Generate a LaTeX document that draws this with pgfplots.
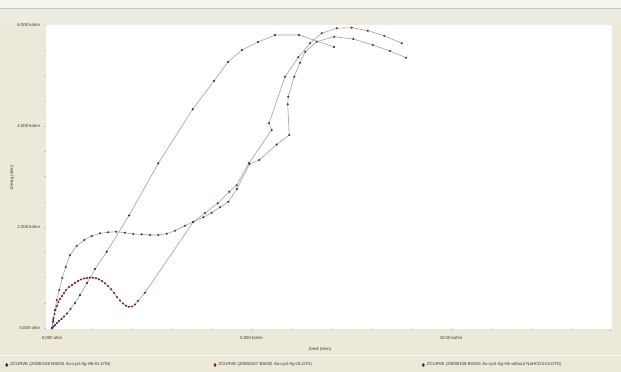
\documentclass[border=0pt]{standalone}
\usepackage{fontspec}
\setmainfont{Liberation Sans}
\usepackage{pgfplots}
\pgfplotsset{compat=1.18}
\definecolor{bg}{HTML}{ECE9DB}
\definecolor{topc}{HTML}{F5F4EF}
\definecolor{band}{HTML}{EEEBE1}
\definecolor{ln}{HTML}{A0A0A0}
\definecolor{ca}{HTML}{1E2470}
\definecolor{cb}{HTML}{8E1616}
\definecolor{cc}{HTML}{3A3A3A}
\newcommand{\tf}{\fontsize{4.3}{5}\selectfont}
\begin{document}
\begin{tikzpicture}
\fill[bg] (0pt,0pt) rectangle (621pt,372pt);
\fill[topc] (0pt,364pt) rectangle (621pt,372pt);
\fill[band] (0pt,347pt) rectangle (621pt,364pt);
\draw[line width=0.6pt, color=black!22] (0pt,364pt) -- (621pt,364pt);
\draw[line width=0.5pt, color=white!60!bg] (0pt,16.5pt) -- (621pt,16.5pt);
\begin{axis}[
  at={(46pt,43pt)}, anchor=south west,
  scale only axis, width=566pt, height=304pt,
  xmin=-0.150, xmax=14.035, ymin=-0.020, ymax=6.0,
  axis background/.style={fill=white},
  axis line style={draw=none},
  xtick={0,5,10}, xticklabels={0.000 ohm, 5.000 kohm, 10.00 kohm},
  ytick={0,2,4,6}, yticklabels={0.000 ohm, 2.000 kohm, 4.000 kohm, 6.000 kohm},
  minor xtick={1,2,3,4,6,7,8,9,11,12,13,14},
  minor ytick={0.5,1,1.5,2.5,3,3.5,4.5,5,5.5},
  xtick pos=lower, ytick pos=left, tick align=outside,
  major tick length=2.5pt, minor tick length=2pt,
  tick style={color=black!25, line width=0.4pt},
  ticklabel style={font=\tf, text=black!80},
  xticklabel style={yshift=-1.5pt},
  clip=false,
  legend columns=3,
  legend cell align=left,
  legend image code/.code={\path[#1] plot[mark=diamond*, mark size=1.5pt] coordinates {(0pt,0pt)};},
  legend style={draw=none, fill=none, inner sep=0pt, font=\tf, text=black!80,
    at={(axis description cs:-0.0716,-0.1184)}, anchor=west,
    nodes={inner sep=0.5pt, text width=203pt},
    /tikz/every odd column/.append style={column sep=2pt}},
]
\addplot[ln, line width=0.6pt, mark=*, mark size=0.7pt, mark options={draw=ca, fill=ca}] coordinates {
(0,0) (0.038,0.030) (0.075,0.059) (0.125,0.099) (0.175,0.139) (0.238,0.178)
(0.301,0.228) (0.376,0.287) (0.464,0.376) (0.576,0.495) (0.702,0.653)
(0.877,0.891) (1.078,1.168) (1.371,1.509) (1.930,2.228) (2.664,3.261)
(3.526,4.331) (4.060,4.891) (4.411,5.267) (4.762,5.505) (5.163,5.663)
(5.589,5.802) (6.190,5.802) (7.068,5.564)
};
\addlegendentry{ZCURVE (20090128 BS\#03 Au-cycl-Ag-Hb-01.DTA)}
\addplot[ln, line width=0.6pt, mark=*, mark size=0.7pt, mark options={draw=cb, fill=cb}] coordinates {
(0,0) (0.025,0.119) (0.038,0.198) (0.063,0.277) (0.088,0.356) (0.125,0.436)
(0.163,0.515) (0.201,0.574) (0.251,0.634) (0.301,0.693) (0.351,0.752)
(0.426,0.812) (0.501,0.851) (0.576,0.891) (0.652,0.931) (0.727,0.960)
(0.802,0.980) (0.877,0.990) (0.952,0.996) (1.028,0.996) (1.103,0.986)
(1.178,0.964) (1.253,0.931) (1.328,0.885) (1.404,0.832) (1.479,0.766)
(1.554,0.693) (1.629,0.614) (1.704,0.545) (1.779,0.485) (1.855,0.442)
(1.930,0.420) (2.005,0.426) (2.080,0.465) (2.155,0.535) (2.331,0.699)
(3.541,2.099) (3.835,2.277) (4.153,2.469) (4.444,2.699) (4.629,2.826)
(4.937,3.267) (5.506,3.921) (5.439,4.053) (5.840,4.976) (6.173,5.360)
(6.466,5.638) (6.759,5.836) (7.135,5.935) (7.511,5.947) (7.912,5.887)
(8.328,5.788) (8.764,5.638)
};
\addlegendentry{ZCURVE (20090107 BS\#02 Au-cycl-Ag-01.DTA)}
\addplot[ln, line width=0.6pt, mark=*, mark size=0.7pt, mark options={draw=cc, fill=cc}] coordinates {
(0,0) (0.033,0.158) (0.075,0.356) (0.118,0.554) (0.183,0.752) (0.258,0.990)
(0.343,1.208) (0.451,1.446) (0.619,1.624) (0.810,1.743) (0.995,1.822)
(1.203,1.875) (1.411,1.895) (1.604,1.907) (1.830,1.887) (2.038,1.861)
(2.248,1.855) (2.456,1.842) (2.664,1.842) (2.875,1.867) (3.083,1.927)
(3.333,2.026) (3.541,2.105) (3.792,2.192) (4.003,2.283) (4.211,2.390)
(4.419,2.501) (4.637,2.752) (4.950,3.248) (5.195,3.327) (5.631,3.634)
(5.947,3.822) (5.907,4.430) (5.922,4.580) (6.073,4.976) (6.216,5.253)
(6.348,5.471) (6.634,5.669) (7.075,5.768) (7.551,5.723) (8.038,5.604)
(8.471,5.485) (8.872,5.352)
};
\addlegendentry{ZCURVE (20090109 BS\#03 Au-cycl-Ag-Hb without NaHCO3-01.DTA)}
\end{axis}
\node[font=\tf, text=black!80] at (320pt,23pt) {Zreal (ohm)};
\node[font=\tf, text=black!80, rotate=90] at (12pt,194pt) {-Zimag (ohm)};
\pgfresetboundingbox
\path (0pt,0pt) rectangle (621pt,372pt);
\end{tikzpicture}
\end{document}
